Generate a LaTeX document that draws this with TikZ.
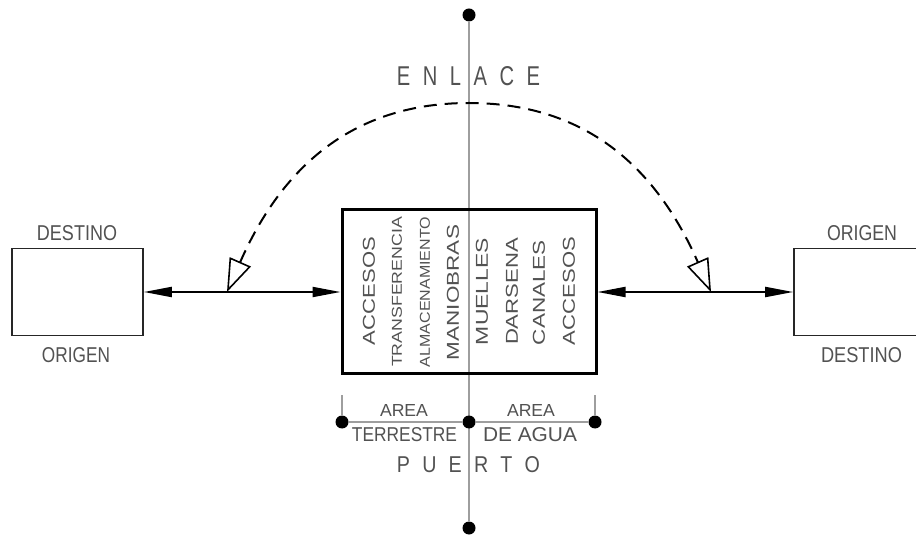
\documentclass[tikz,border=0pt]{standalone}
\usepackage{fontspec}
\setmainfont{Liberation Sans}
\usepackage{graphicx}
\usetikzlibrary{arrows.meta}
\newcommand\fitt[3]{\resizebox{#1pt}{#2pt}{#3}}
\newcommand\gp{\hspace{0.62em}}
\begin{document}
\begin{tikzpicture}[x=1pt,y=-1pt,
  lbl/.style={inner sep=0pt, text=black!68},
  vlbl/.style={lbl, rotate=90},
  thinbox/.style={draw=black!85, line width=1.6pt, inner sep=0pt, minimum height=87pt},
  mainbox/.style={draw=black, line width=3pt, inner sep=0pt, minimum width=254pt, minimum height=164pt},
  dot/.style={circle, fill=black, inner sep=0pt, minimum size=13pt},
  axis/.style={draw=black!38, line width=1.5pt},
  flow/.style={line width=2pt, {Triangle[length=28pt,width=10pt]}-{Triangle[length=28pt,width=10pt]}},
  link/.style={line width=2pt, dash pattern=on 13pt off 8pt,
    {Triangle[open,length=33pt,width=23pt,line width=1.6pt]}-{Triangle[open,length=33pt,width=23pt,line width=1.6pt]}}
]
\clip (0,0) rectangle (916,537);
\fill[white] (0,0) rectangle (916,537);

% axis and dots
\node[dot] (dt) at (469,15) {};
\node[dot] (db) at (469,528) {};
\draw[axis] (dt) -- (db);

% boxes
\node[thinbox, minimum width=131pt] (lb) at (77.5,292) {};
\node[thinbox, minimum width=140pt] (rb) at (864,292) {};
\node[mainbox] (cb) at (469,292) {};

% horizontal flows
\draw[flow] (lb.east) -- (cb.west);
\draw[flow] (cb.east) -- (rb.west);

% dashed link arc
\coordinate (aL) at (227,292);
\coordinate (aR) at (711,292);
\draw[link] (aL) .. controls (275.5,182) and (340,103) .. (469,103)
                 .. controls (598,103) and (662.5,182) .. (aR);

% labels
\node[lbl] (enl) at (468.5,76.5) {\fitt{143}{19}{E\gp N\gp L\gp A\gp C\gp E}};
\node[lbl] (pto) at (468.5,465) {\fitt{143}{16}{P\gp U\gp E\gp R\gp T\gp O}};
\node[lbl] (ld) at (77,233) {\fitt{80}{15}{DESTINO}};
\node[lbl] (lo) at (76,355) {\fitt{68}{15}{ORIGEN}};
\node[lbl] (ro) at (862,233) {\fitt{70}{15}{ORIGEN}};
\node[lbl] (rd) at (861.5,355) {\fitt{81}{15}{DESTINO}};

% vertical labels in the port box
\node[vlbl] (v1) at (369,291) {\fitt{108}{12}{ACCESOS}};
\node[vlbl] (v2) at (397,292) {\fitt{150}{10}{TRANSFERENCIA}};
\node[vlbl] (v3) at (425,292) {\fitt{150}{10}{ALMACENAMIENTO}};
\node[vlbl] (v4) at (453,292.5) {\fitt{135}{12}{MANIOBRAS}};
\node[vlbl] (v5) at (482,291.5) {\fitt{107}{12}{MUELLES}};
\node[vlbl] (v6) at (512,291.5) {\fitt{107}{12}{DARSENA}};
\node[vlbl] (v7) at (539,292.5) {\fitt{105}{12}{CANALES}};
\node[vlbl] (v8) at (569,291) {\fitt{108}{12}{ACCESOS}};

% bottom dimension line
\node[dot] (dl) at (342,422) {};
\node[dot] (dm) at (469,422) {};
\node[dot] (dr) at (595,422) {};
\coordinate (tl) at (342,395);
\coordinate (tr) at (595,395);
\draw[axis] (dl) -- (dm) -- (dr);
\draw[axis] (dl) -- (tl);
\draw[axis] (dr) -- (tr);

\node[lbl] (a1) at (404,411) {\fitt{48}{12}{AREA}};
\node[lbl] (a2) at (404.5,435) {\fitt{105}{14}{TERRESTRE}};
\node[lbl] (a3) at (531,411) {\fitt{48}{12}{AREA}};
\node[lbl] (a4) at (530,435) {\fitt{94}{14}{DE AGUA}};
\end{tikzpicture}
\end{document}
